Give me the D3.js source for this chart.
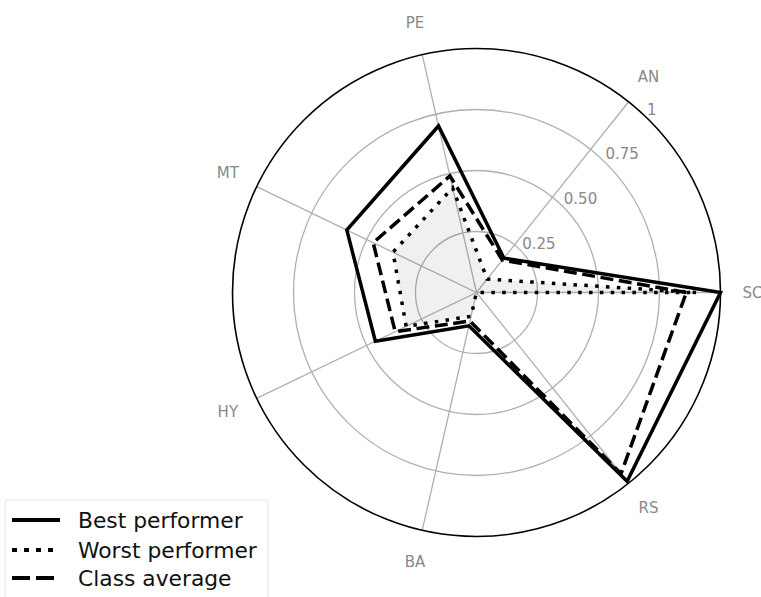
<!DOCTYPE html>
<html>
<head>
<meta charset="utf-8">
<script src="https://cdn.jsdelivr.net/npm/d3@7"></script>
<style>
  html, body { margin: 0; padding: 0; background: #fff; }
  svg { display: block; font-family: "DejaVu Sans", sans-serif; }
</style>
</head>
<body>
<svg id="chart" width="761" height="597"></svg>
<script>
// Skill axes, counter-clockwise starting from the east
const axes = ["SC", "AN", "PE", "MT", "HY", "BA", "RS"];

const bestPerformer  = [1.00, 0.18, 0.70, 0.59, 0.46, 0.14, 0.99];
const worstPerformer = [0.90, 0.07, 0.44, 0.38, 0.32, 0.10, 0.00];
const classAverage   = [0.86, 0.17, 0.49, 0.47, 0.37, 0.12, 0.95];

const ringTicks  = [0.25, 0.5, 0.75, 1];
const ringLabels = ["0.25", "0.50", "0.75", "1"];

const seriesNames = ["Best performer", "Worst performer", "Class average"];

const width = 761, height = 597;
const cx = 476.5, cy = 292.5, R = 244;
const lw = 3.5;
const dashFor = {
  "Best performer": null,
  "Worst performer": `${lw},${lw * 2.1}`,
  "Class average": `${lw * 3.7},${lw * 1.6}`
};

const svg = d3.select("#chart");
const g = svg.append("g").attr("transform", `translate(${cx},${cy})`);

const r = d3.scaleLinear().domain([0, 1]).range([0, R]);
// angle in radians measured counter-clockwise from east (math convention)
const ang = d3.scaleLinear().domain([0, axes.length]).range([0, 2 * Math.PI]);

const px = (i, v) => r(v) * Math.cos(ang(i));
const py = (i, v) => -r(v) * Math.sin(ang(i));

// Grid rings
g.selectAll("circle.ring")
  .data(ringTicks.filter(t => t < 1))
  .join("circle")
  .attr("class", "ring")
  .attr("r", d => r(d))
  .attr("fill", "none")
  .attr("stroke", "#b0b0b0")
  .attr("stroke-width", 1.3);

// Spokes
g.selectAll("line.spoke")
  .data(axes)
  .join("line")
  .attr("class", "spoke")
  .attr("x1", 0).attr("y1", 0)
  .attr("x2", (d, i) => px(i, 1))
  .attr("y2", (d, i) => py(i, 1))
  .attr("stroke", "#b0b0b0")
  .attr("stroke-width", 1.3);

// Outer frame
g.append("circle")
  .attr("r", r(1))
  .attr("fill", "none")
  .attr("stroke", "#000")
  .attr("stroke-width", 1.6);

// Ring value labels, placed along a fixed bearing
const labelAngle = 47 * Math.PI / 180;
g.selectAll("text.rtick")
  .data(ringTicks)
  .join("text")
  .attr("class", "rtick")
  .attr("x", d => (r(d) + 6) * Math.cos(labelAngle))
  .attr("y", d => -(r(d) + 6) * Math.sin(labelAngle))
  .attr("dominant-baseline", "central")
  .attr("font-size", 15)
  .attr("fill", "#888")
  .text((d, i) => ringLabels[i]);

// Axis labels
g.selectAll("text.axis")
  .data(axes)
  .join("text")
  .attr("class", "axis")
  .attr("x", (d, i) => (R + 32) * Math.cos(ang(i)))
  .attr("y", (d, i) => -(R + 32) * Math.sin(ang(i)))
  .attr("text-anchor", "middle")
  .attr("dominant-baseline", "central")
  .attr("font-size", 15)
  .attr("fill", "#888")
  .text(d => d);

const radial = d3.lineRadial()
  .angle((d, i) => Math.PI / 2 - ang(i))
  .radius(d => r(d))
  .curve(d3.curveLinearClosed);

// Shaded area of the weakest result
g.append("path")
  .attr("d", radial(worstPerformer))
  .attr("fill", "rgba(0,0,0,0.06)")
  .attr("stroke", "none");

const series = [
  { name: "Best performer", values: bestPerformer },
  { name: "Worst performer", values: worstPerformer },
  { name: "Class average", values: classAverage }
];

g.selectAll("path.series")
  .data(series)
  .join("path")
  .attr("class", "series")
  .attr("d", d => radial(d.values))
  .attr("fill", "none")
  .attr("stroke", "#000")
  .attr("stroke-width", lw)
  .attr("stroke-linejoin", "miter")
  .attr("stroke-dasharray", d => dashFor[d.name]);

// Legend
const legend = svg.append("g");
legend.append("rect")
  .attr("x", 5).attr("y", 500)
  .attr("width", 263).attr("height", 110)
  .attr("rx", 3)
  .attr("fill", "#fff")
  .attr("fill-opacity", 0.8)
  .attr("stroke", "#e4e4e4");

const rowY = [520, 550, 578];
const rows = legend.selectAll("g.row")
  .data(seriesNames)
  .join("g")
  .attr("class", "row")
  .attr("transform", (d, i) => `translate(0,${rowY[i]})`);

rows.append("line")
  .attr("x1", 12).attr("x2", 60)
  .attr("y1", 0).attr("y2", 0)
  .attr("stroke", "#000")
  .attr("stroke-width", 4)
  .attr("stroke-dasharray", d => d === "Worst performer" ? "5,7" : d === "Class average" ? "18,6" : null);

rows.append("text")
  .attr("x", 78)
  .attr("y", 0)
  .attr("dominant-baseline", "central")
  .attr("font-size", 21.8)
  .attr("fill", "#111")
  .text(d => d);
</script>
</body>
</html>
